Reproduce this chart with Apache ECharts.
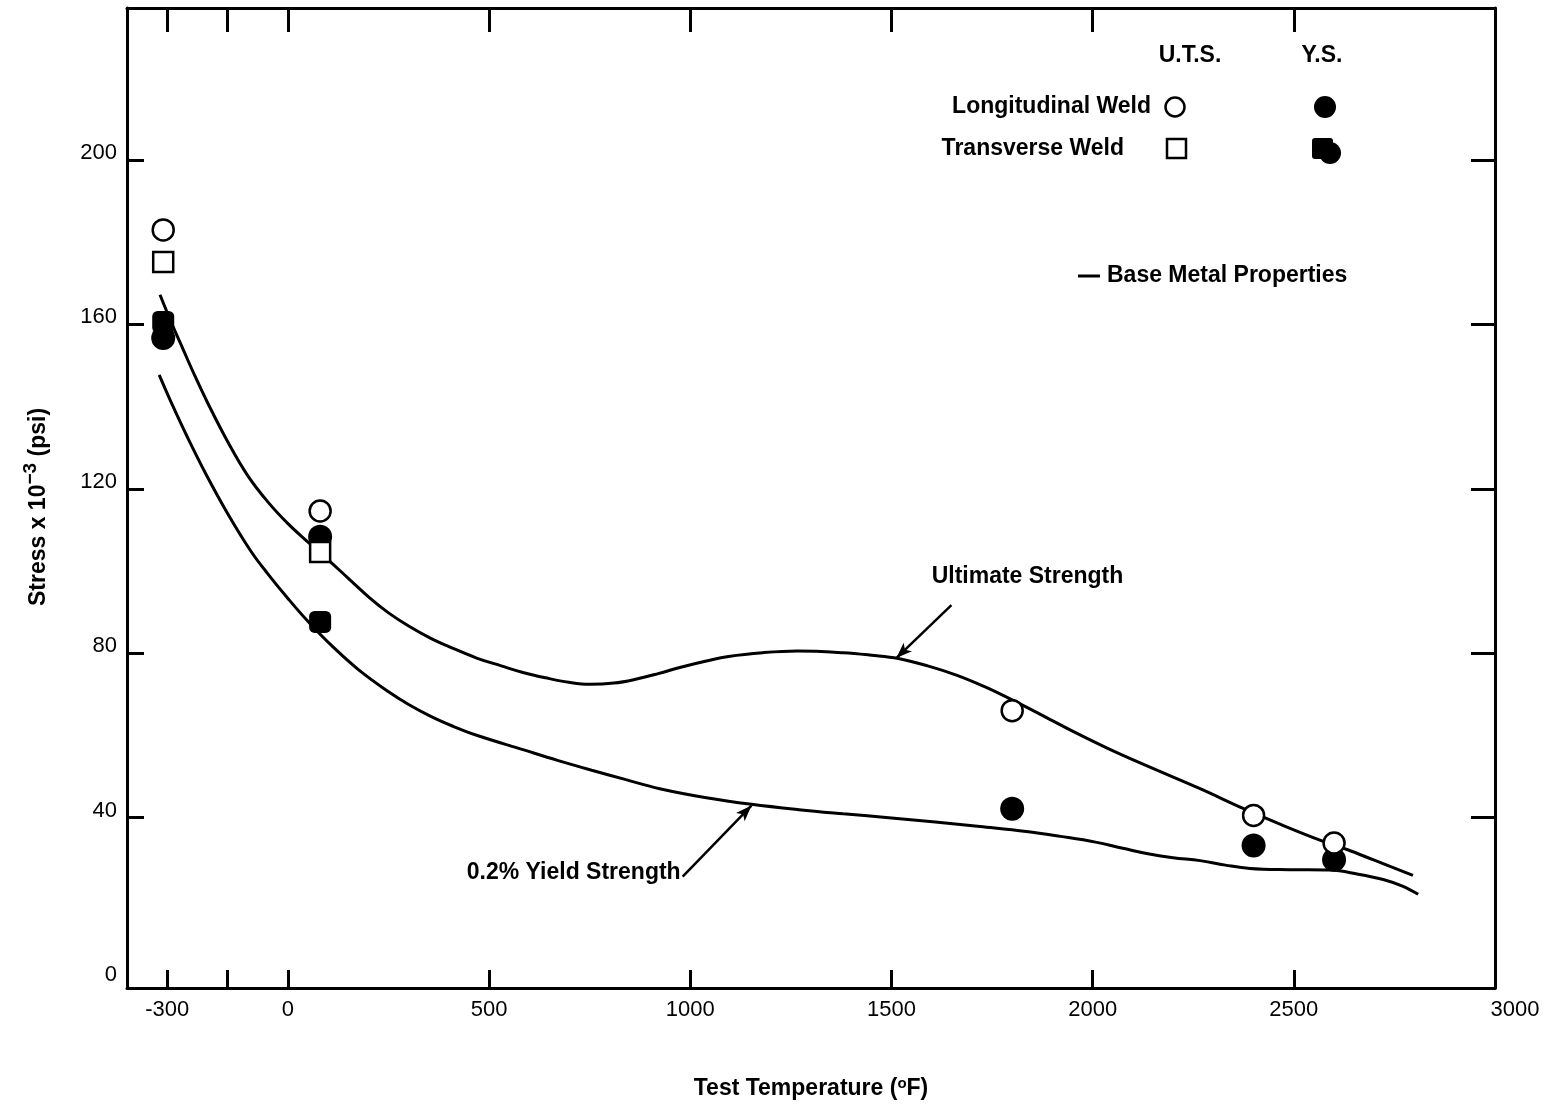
<!DOCTYPE html>
<html>
<head>
<meta charset="utf-8">
<script src="https://cdn.jsdelivr.net/npm/echarts@6/dist/echarts.min.js"></script>
<style>
  html, body { margin: 0; padding: 0; background: #fff; }
  #chart { width: 1557px; height: 1112px; }
</style>
</head>
<body>
<div id="chart"></div>
<script>
// Axis ticks and labels
const xTickValues = [-300, -150, 0, 500, 1000, 1500, 2000, 2500];
const xLabelValues = [-300, 0, 500, 1000, 1500, 2000, 2500, 3000];
const yTickValues = [40, 80, 120, 160, 200];
const yLabelValues = [0, 40, 80, 120, 160, 200];

// Base metal property curves (temperature in °F, stress in ksi)
const ultTemp = [-318, -290, -260, -230, -200, -150, -100, -50, 0, 50, 100, 150, 206, 250, 300, 355, 400, 469, 530, 584, 640, 698, 750, 810, 867, 920, 981, 1040, 1095, 1180, 1266, 1380, 1450, 1517, 1590, 1663, 1730, 1790, 1870, 1950, 2040, 2141, 2267, 2374, 2470, 2570, 2632, 2700, 2796];
const ultStress = [167.2, 160.5, 153.8, 147.2, 141.0, 131.5, 123.2, 116.8, 111.5, 107.0, 102.7, 98.2, 93.2, 89.8, 86.6, 83.6, 81.6, 78.8, 76.9, 75.3, 74.0, 72.9, 72.4, 72.7, 73.7, 75.0, 76.7, 78.1, 79.2, 80.1, 80.5, 80.1, 79.5, 78.7, 76.9, 74.6, 71.9, 69.1, 65.1, 61.0, 56.7, 52.3, 47.0, 42.2, 38.2, 34.3, 32.2, 29.6, 25.9];
const ysTemp = [-320, -291, -250, -204, -150, -92, -50, 0, 50, 112, 175, 250, 300, 355, 410, 469, 584, 670, 755, 840, 924, 1040, 1152, 1270, 1380, 1500, 1609, 1720, 1835, 1920, 2007, 2075, 2141, 2200, 2267, 2330, 2391, 2490, 2590, 2660, 2722, 2770, 2809];
const ysStress = [147.7, 141.2, 132.6, 123.6, 114.0, 104.8, 99.3, 93.3, 87.7, 81.5, 76.0, 70.6, 67.5, 64.6, 62.2, 60.0, 56.5, 53.9, 51.5, 49.2, 47.0, 44.8, 43.2, 41.9, 40.9, 39.9, 38.9, 37.8, 36.6, 35.4, 34.0, 32.5, 31.1, 30.2, 29.5, 28.4, 27.6, 27.3, 27.2, 26.2, 24.9, 23.3, 21.3];

// Weld test results
const longUtsTemp = [-310, 80, 1800, 2400, 2600];
const longUts = [183.0, 114.6, 66.0, 40.5, 33.8];
const transUtsTemp = [-310, 80];
const transUts = [175.2, 104.6];
const longYsTemp = [-310, 80, 1800, 2400, 2600];
const longYs = [156.7, 108.3, 42.1, 33.2, 29.7];
const transYsTemp = [-310, 80];
const transYs = [160.6, 87.6];

const FONT = 'Liberation Sans';
const INK = '#000';

function pairs(xs, ys) { return xs.map((x, i) => [x, ys[i]]); }

const chart = echarts.init(document.getElementById('chart'), null, { renderer: 'canvas' });

const frameLine = { show: true, onZero: false, lineStyle: { color: INK, width: 3 } };
const tickLine = { lineStyle: { color: INK, width: 3 } };

const option = {
  backgroundColor: '#fff',
  animation: false,
  textStyle: { fontFamily: FONT, color: INK },
  grid: { left: 127, right: 62, top: 8, bottom: 124, containLabel: false },
  xAxis: [
    {
      type: 'value', position: 'bottom', min: -400, max: 3000,
      axisLine: frameLine,
      axisTick: { show: true, inside: true, length: 18, customValues: xTickValues, ...tickLine },
      axisLabel: {
        show: true, customValues: xLabelValues, fontSize: 22, color: INK, margin: 11,
        fontFamily: FONT,
        formatter: v => (v === 3000 ? '{r|3000}' : String(v)),
        rich: { r: { fontSize: 22, fontFamily: FONT, color: INK, padding: [0, 0, 0, 40] } }
      },
      splitLine: { show: false },
      name: 'Test Temperature ({sup|o}F)',
      nameLocation: 'middle', nameGap: 88,
      nameTextStyle: {
        fontSize: 23, fontWeight: 'bold', color: INK, fontFamily: FONT,
        rich: { sup: { fontSize: 15, fontWeight: 'bold', fontFamily: FONT, color: INK, padding: [0, 0, 10, 0] } }
      }
    },
    {
      type: 'value', position: 'top', min: -400, max: 3000,
      axisLine: frameLine,
      axisTick: { show: true, inside: true, length: 24, customValues: xTickValues, ...tickLine },
      axisLabel: { show: false },
      splitLine: { show: false }
    }
  ],
  yAxis: [
    {
      type: 'value', position: 'left', min: -1.5, max: 237,
      axisLine: frameLine,
      axisTick: { show: true, inside: true, length: 17, customValues: yTickValues, ...tickLine },
      axisLabel: {
        show: true, customValues: yLabelValues, color: INK, margin: 10,
        formatter: v => '{v|' + v + '}',
        rich: { v: { fontSize: 22, fontFamily: FONT, color: INK, padding: [0, 0, 14, 0] } }
      },
      splitLine: { show: false },
      name: 'Stress x 10{sup|\u22123} (psi)',
      nameLocation: 'middle', nameGap: 71, nameRotate: 90,
      nameTextStyle: {
        fontSize: 23, fontWeight: 'bold', color: INK, fontFamily: FONT, padding: [0, 18, 0, 0],
        rich: { sup: { fontSize: 19, fontWeight: 'bold', fontFamily: FONT, color: INK, padding: [0, 0, 16, 0] } }
      }
    },
    {
      type: 'value', position: 'right', min: -1.5, max: 237,
      axisLine: frameLine,
      axisTick: { show: true, inside: true, length: 24, customValues: yTickValues, ...tickLine },
      axisLabel: { show: false },
      splitLine: { show: false }
    }
  ],
  series: [
    {
      name: 'Ultimate Strength', type: 'line', data: pairs(ultTemp, ultStress),
      smooth: 0.4, showSymbol: false, symbol: 'none',
      lineStyle: { color: INK, width: 3 }, z: 2,
      markLine: {
        silent: true, symbol: ['none', 'arrow'], symbolSize: [9, 16],
        lineStyle: { color: INK, width: 2.5, type: 'solid' }, label: { show: false },
        data: [[{ coord: [1649, 91.7] }, { coord: [1512, 78.8] }]]
      }
    },
    {
      name: '0.2% Yield Strength', type: 'line', data: pairs(ysTemp, ysStress),
      smooth: 0.4, showSymbol: false, symbol: 'none',
      lineStyle: { color: INK, width: 3 }, z: 2,
      markLine: {
        silent: true, symbol: ['none', 'arrow'], symbolSize: [9, 16],
        lineStyle: { color: INK, width: 2.5, type: 'solid' }, label: { show: false },
        data: [[{ coord: [981, 25.6] }, { coord: [1152, 42.9] }]]
      }
    },
    {
      name: 'Longitudinal Weld Y.S.', type: 'scatter', data: pairs(longYsTemp, longYs),
      symbol: 'circle', symbolSize: 24, itemStyle: { color: INK, opacity: 1 }, z: 3
    },
    {
      name: 'Transverse Weld Y.S.', type: 'scatter', data: pairs(transYsTemp, transYs),
      symbol: 'roundRect', symbolSize: 22, itemStyle: { color: INK, opacity: 1 }, z: 3
    },
    {
      name: 'Transverse Weld U.T.S.', type: 'scatter', data: pairs(transUtsTemp, transUts),
      symbol: 'rect', symbolSize: 20, itemStyle: { color: '#fff', borderColor: INK, borderWidth: 2.5, opacity: 1 }, z: 4
    },
    {
      name: 'Longitudinal Weld U.T.S.', type: 'scatter', data: pairs(longUtsTemp, longUts),
      symbol: 'circle', symbolSize: 21, itemStyle: { color: '#fff', borderColor: INK, borderWidth: 2.5, opacity: 1 }, z: 4
    }
  ]
};

chart.setOption(option);

// Curve captions placed in data space, plus the symbol key
const ultCaption = chart.convertToPixel({ gridIndex: 0 }, [1838, 98.5]);
const ysCaption = chart.convertToPixel({ gridIndex: 0 }, [976, 26.6]);

const bold = { fontFamily: FONT, fontWeight: 'bold', fontSize: 23, fill: INK };

chart.setOption({
  graphic: [
    { type: 'text', x: ultCaption[0], y: ultCaption[1], style: { ...bold, text: 'Ultimate Strength', align: 'center', verticalAlign: 'middle' } },
    { type: 'text', x: ysCaption[0], y: ysCaption[1], style: { ...bold, text: '0.2% Yield Strength', align: 'right', verticalAlign: 'middle' } },

    { type: 'text', x: 1190, y: 56, style: { ...bold, text: 'U.T.S.', align: 'center', verticalAlign: 'middle' } },
    { type: 'text', x: 1322, y: 56, style: { ...bold, text: 'Y.S.', align: 'center', verticalAlign: 'middle' } },
    { type: 'text', x: 1151, y: 107, style: { ...bold, text: 'Longitudinal Weld', align: 'right', verticalAlign: 'middle' } },
    { type: 'text', x: 1124, y: 149, style: { ...bold, text: 'Transverse Weld', align: 'right', verticalAlign: 'middle' } },
    { type: 'circle', shape: { cx: 1175, cy: 107, r: 9.5 }, style: { fill: '#fff', stroke: INK, lineWidth: 2.5 } },
    { type: 'circle', shape: { cx: 1325, cy: 107, r: 11 }, style: { fill: INK } },
    { type: 'rect', shape: { x: 1167, y: 139, width: 19, height: 19 }, style: { fill: '#fff', stroke: INK, lineWidth: 2.5 } },
    { type: 'rect', shape: { x: 1312, y: 138, width: 21, height: 21, r: 3 }, style: { fill: INK } },
    { type: 'circle', shape: { cx: 1330, cy: 153, r: 11 }, style: { fill: INK } },

    { type: 'line', shape: { x1: 1078, y1: 276, x2: 1100, y2: 276 }, style: { stroke: INK, lineWidth: 3 } },
    { type: 'text', x: 1107, y: 276, style: { ...bold, text: 'Base Metal Properties', align: 'left', verticalAlign: 'middle' } }
  ]
});
</script>
</body>
</html>
